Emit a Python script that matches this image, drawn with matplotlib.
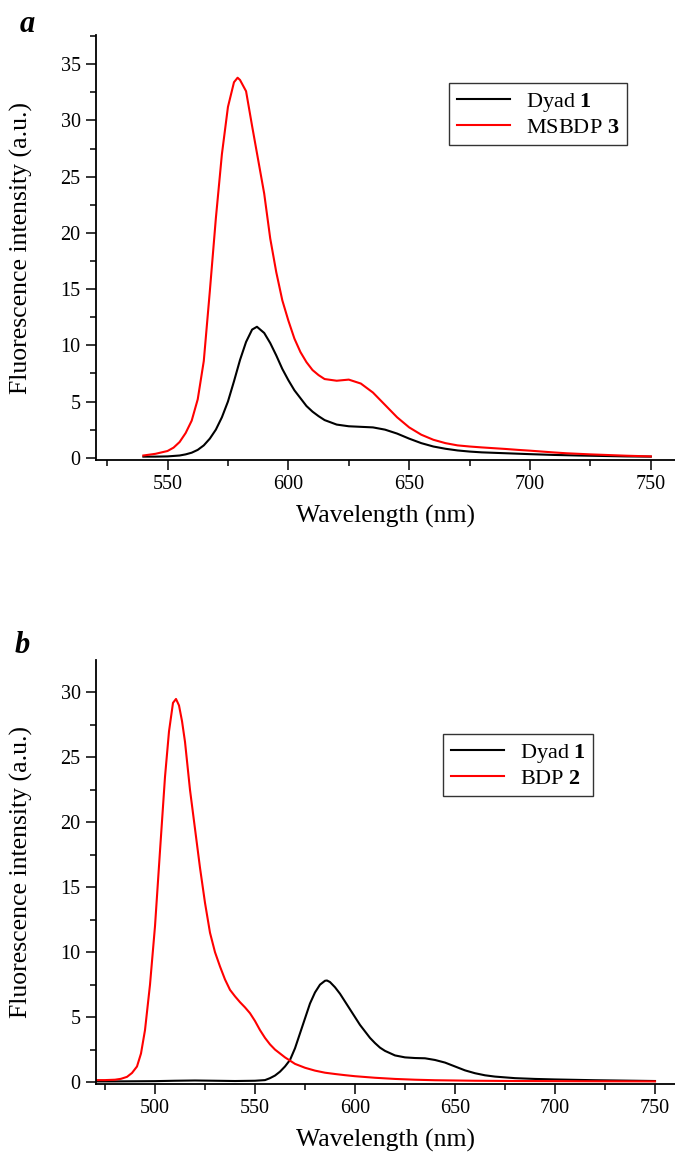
import numpy as np
import matplotlib
matplotlib.use("Agg")
import matplotlib.pyplot as plt

plt.rcParams['font.family'] = ['Liberation Serif', 'DejaVu Serif']
plt.rcParams['mathtext.fontset'] = 'custom'
plt.rcParams['mathtext.rm'] = 'Liberation Serif'
plt.rcParams['mathtext.bf'] = 'Liberation Serif:bold'

# Panel a: Dyad 1 vs MSBDP 3
wl_a_red = [540, 545, 550, 552.5, 555, 557.5, 560, 562.5, 565, 567.5, 570, 572.5,
            575, 577.5, 579, 580, 582.5, 585, 587.5, 590, 592.5, 595, 597.5, 600,
            602.5, 605, 607.5, 610, 612.5, 615, 620, 625, 630, 635, 640, 645, 650,
            655, 660, 665, 670, 675, 680, 685, 690, 695, 700, 705, 710, 715, 720,
            725, 730, 735, 740, 745, 750]
int_a_red = [0.2, 0.35, 0.6, 0.9, 1.4, 2.2, 3.3, 5.2, 8.6, 14.8, 21.3, 27.0,
             31.2, 33.4, 33.8, 33.6, 32.6, 29.5, 26.5, 23.5, 19.5, 16.5, 14.0, 12.2,
             10.6, 9.4, 8.5, 7.8, 7.35, 7.0, 6.85, 6.95, 6.6, 5.8, 4.7, 3.6, 2.7,
             2.05, 1.6, 1.3, 1.1, 1.0, 0.92, 0.85, 0.78, 0.7, 0.63, 0.55, 0.47, 0.4, 0.35,
             0.3, 0.26, 0.22, 0.18, 0.15, 0.12]

wl_a_blk = [540, 545, 550, 555, 557.5, 560, 562.5, 565, 567.5, 570, 572.5, 575,
            577.5, 580, 582.5, 585, 587, 590, 592.5, 595, 597.5, 600, 602.5, 605,
            607.5, 610, 612.5, 615, 620, 625, 630, 635, 640, 645, 650, 655, 660,
            665, 670, 675, 680, 690, 700, 710, 720, 730, 740, 750]
int_a_blk = [0.1, 0.1, 0.12, 0.2, 0.3, 0.45, 0.7, 1.1, 1.7, 2.5, 3.6, 5.0,
             6.8, 8.7, 10.3, 11.4, 11.65, 11.1, 10.2, 9.1, 7.9, 6.9, 6.0, 5.3,
             4.6, 4.1, 3.7, 3.35, 2.95, 2.8, 2.75, 2.7, 2.5, 2.15, 1.7, 1.3, 1.0,
             0.8, 0.65, 0.55, 0.48, 0.4, 0.32, 0.25, 0.2, 0.16, 0.12, 0.1]

# Panel b: Dyad 1 vs BDP 2
wl_b_red = [470, 475, 480, 483, 486, 488.5, 491, 493, 495, 497.5, 500, 502.5,
            505, 507, 509, 510.5, 512, 513.5, 515, 517.5, 520, 522.5, 525, 527.5,
            530, 532.5, 535, 537.5, 540, 542.5, 545, 547.5, 550, 552.5, 555, 557.5,
            560, 565, 570, 575, 580, 585, 590, 595, 600, 610, 620, 630, 640, 650,
            660, 680, 700, 720, 750]
int_b_red = [0.15, 0.15, 0.18, 0.25, 0.4, 0.7, 1.2, 2.2, 4.0, 7.5, 12.0, 17.8,
             23.5, 27.0, 29.2, 29.5, 29.0, 27.8, 26.2, 22.5, 19.5, 16.5, 13.8, 11.5,
             10.0, 8.9, 7.9, 7.1, 6.6, 6.15, 5.75, 5.3, 4.7, 4.0, 3.4, 2.9,
             2.5, 1.9, 1.4, 1.1, 0.88, 0.72, 0.62, 0.53, 0.45, 0.33, 0.24, 0.18, 0.14, 0.12,
             0.1, 0.08, 0.07, 0.06, 0.05]

wl_b_blk = [470, 480, 490, 500, 510, 520, 530, 540, 550, 555, 557.5, 560, 562.5,
            565, 567.5, 570, 572.5, 575, 577.5, 580, 582.5, 585, 586, 587.5, 590,
            592.5, 595, 597.5, 600, 602.5, 605, 607.5, 610, 612.5, 615, 620, 625,
            630, 635, 640, 645, 650, 655, 660, 665, 670, 680, 690, 700, 710, 720,
            730, 740, 750]
int_b_blk = [0.05, 0.05, 0.06, 0.07, 0.1, 0.12, 0.1, 0.08, 0.1, 0.15, 0.3, 0.5, 0.8,
             1.2, 1.7, 2.6, 3.75, 4.9, 6.05, 6.9, 7.5, 7.8, 7.82, 7.7, 7.3,
             6.8, 6.2, 5.6, 5.0, 4.4, 3.9, 3.4, 3.0, 2.65, 2.4, 2.05, 1.9,
             1.85, 1.83, 1.7, 1.5, 1.2, 0.9, 0.68, 0.52, 0.42, 0.3, 0.24, 0.2, 0.17, 0.14,
             0.12, 0.1, 0.08]

fig = plt.figure(figsize=(6.75, 11.6), dpi=100)
ax_a = fig.add_axes([96/675, 1-460/1160, 579/675, 425/1160])
ax_b = fig.add_axes([96/675, 1-1084/1160, 579/675, 424/1160])


def style(ax, xlim, ylim, yticks):
    ax.spines['top'].set_visible(False)
    ax.spines['right'].set_visible(False)
    for s in ('left', 'bottom'):
        ax.spines[s].set_linewidth(1.3)
    ax.set_xticks(np.arange(500, 751, 50))
    ax.set_xticks(np.arange(475, 760, 25), minor=True)
    ax.set_yticks(yticks)
    ax.set_yticks(np.arange(0, ylim[1], 2.5), minor=True)
    ax.set_xlim(*xlim)
    ax.set_ylim(*ylim)
    ax.tick_params(which='major', direction='out', length=7, width=1.1,
                   labelsize=14.5, pad=4)
    ax.tick_params(which='minor', direction='out', length=4.5, width=1.1)
    ax.set_xlabel('Wavelength (nm)', fontsize=18.5)
    ax.set_ylabel('Fluorescence intensity (a.u.)', fontsize=18.5)
    ax.xaxis.set_label_coords(0.5, -0.105)
    ax.yaxis.set_label_coords(-0.108, 0.5)


ax_a.plot(wl_a_blk, int_a_blk, color='black', lw=1.5, label=r'Dyad $\mathbf{1}$')
ax_a.plot(wl_a_red, int_a_red, color='red', lw=1.5, label=r'MSBDP $\mathbf{3}$')
style(ax_a, (520.4, 760), (-0.2, 37.6), np.arange(0, 36, 5))
ax_a.legend(loc='upper left', bbox_to_anchor=(449/675, 1-83/1160),
            bbox_transform=fig.transFigure, borderaxespad=0, fontsize=16,
            handlelength=2.4, fancybox=False, edgecolor='#333333',
            framealpha=1, borderpad=0.35, labelspacing=0.15, handletextpad=0.7)

ax_b.plot(wl_b_blk, int_b_blk, color='black', lw=1.5, label=r'Dyad $\mathbf{1}$')
ax_b.plot(wl_b_red, int_b_red, color='red', lw=1.5, label=r'BDP $\mathbf{2}$')
style(ax_b, (470.5, 760), (-0.15, 32.5), np.arange(0, 31, 5))
ax_b.legend(loc='upper left', bbox_to_anchor=(443/675, 1-734/1160),
            bbox_transform=fig.transFigure, borderaxespad=0, fontsize=16,
            handlelength=2.4, fancybox=False, edgecolor='#333333',
            framealpha=1, borderpad=0.35, labelspacing=0.15, handletextpad=0.7)

fig.text(20/675, 1-32/1160, 'a', fontsize=22, fontweight='bold', fontstyle='italic',
         ha='left', va='baseline')
fig.text(15/675, 1-653/1160, 'b', fontsize=22, fontweight='bold', fontstyle='italic',
         ha='left', va='baseline')

fig.savefig('out.png', dpi=100)
